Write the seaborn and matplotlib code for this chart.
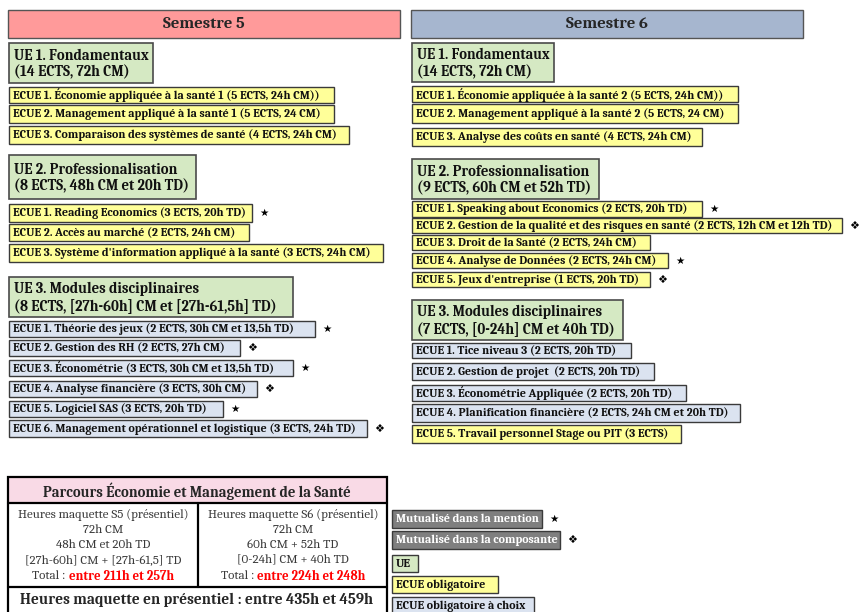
import matplotlib
matplotlib.use("Agg")
import matplotlib.pyplot as plt
from matplotlib.patches import Rectangle
import seaborn as sns

sns.set_theme(style="white")
plt.rcParams["font.family"] = ["Caladea", "DejaVu Sans"]

# ---- content ----
semesters = ["Semestre 5", "Semestre 6"]

s5_ue = ["UE 1. Fondamentaux\n(14 ECTS, 72h CM)",
         "UE 2. Professionalisation\n(8 ECTS, 48h CM et 20h TD)",
         "UE 3. Modules disciplinaires\n(8 ECTS, [27h-60h] CM et [27h-61,5h] TD)"]
s6_ue = ["UE 1. Fondamentaux\n(14 ECTS, 72h CM)",
         "UE 2. Professionnalisation\n(9 ECTS, 60h CM et 52h TD)",
         "UE 3. Modules disciplinaires\n(7 ECTS, [0-24h] CM et 40h TD)"]

s5_ecue = [
    "ECUE 1. Économie appliquée à la santé 1 (5 ECTS, 24h CM))",
    "ECUE 2. Management appliqué à la santé 1 (5 ECTS, 24 CM)",
    "ECUE 3. Comparaison des systèmes de santé (4 ECTS, 24h CM)",
    "ECUE 1. Reading Economics (3 ECTS, 20h TD)",
    "ECUE 2. Accès au marché (2 ECTS, 24h CM)",
    "ECUE 3. Système d'information appliqué à la santé (3 ECTS, 24h CM)",
    "ECUE 1. Théorie des jeux (2 ECTS, 30h CM et 13,5h TD)",
    "ECUE 2. Gestion des RH (2 ECTS, 27h CM)",
    "ECUE 3. Économétrie (3 ECTS, 30h CM et 13,5h TD)",
    "ECUE 4. Analyse financière (3 ECTS, 30h CM)",
    "ECUE 5. Logiciel SAS (3 ECTS, 20h TD)",
    "ECUE 6. Management opérationnel et logistique (3 ECTS, 24h TD)",
]
s5_kind = ["oblig"] * 6 + ["choix"] * 6
s5_mark = ["", "", "", "mention", "", "", "mention", "composante", "mention", "composante", "mention", "composante"]

s6_ecue = [
    "ECUE 1. Économie appliquée à la santé 2 (5 ECTS, 24h CM))",
    "ECUE 2. Management appliqué à la santé 2 (5 ECTS, 24 CM)",
    "ECUE 3. Analyse des coûts en santé (4 ECTS, 24h CM)",
    "ECUE 1. Speaking about Economics (2 ECTS, 20h TD)",
    "ECUE 2. Gestion de la qualité et des risques en santé (2 ECTS, 12h CM et 12h TD)",
    "ECUE 3. Droit de la Santé (2 ECTS, 24h CM)",
    "ECUE 4. Analyse de Données (2 ECTS, 24h CM)",
    "ECUE 5. Jeux d'entreprise (1 ECTS, 20h TD)",
    "ECUE 1. Tice niveau 3 (2 ECTS, 20h TD)",
    "ECUE 2. Gestion de projet  (2 ECTS, 20h TD)",
    "ECUE 3. Économétrie Appliquée (2 ECTS, 20h TD)",
    "ECUE 4. Planification financière (2 ECTS, 24h CM et 20h TD)",
    "ECUE 5. Travail personnel Stage ou PIT (3 ECTS)",
]
s6_kind = ["oblig"] * 8 + ["choix"] * 4 + ["oblig"]
s6_mark = ["", "", "", "mention", "composante", "", "mention", "composante", "", "", "", "", ""]

table_title = "Parcours Économie et Management de la Santé"
s5_hours = ["Heures maquette S5 (présentiel)", "72h CM", "48h CM et 20h TD", "[27h-60h] CM + [27h-61,5] TD"]
s6_hours = ["Heures maquette S6 (présentiel)", "72h CM", "60h CM + 52h TD", "[0-24h] CM + 40h TD"]
totals = ["entre 211h et 257h", "entre 224h et 248h"]
grand_total = "Heures maquette en présentiel : entre 435h et 459h"

legend_labels = ["Mutualisé dans la mention", "Mutualisé dans la composante", "UE",
                 "ECUE obligatoire", "ECUE obligatoire à choix"]
legend_kind = ["gray", "gray", "ue", "oblig", "choix"]
legend_mark = ["mention", "composante", "", "", ""]

# ---- layout (pixels, top-left origin) ----
sem_x = [(8, 400), (411, 803)]
col_x0 = [9, 412]
s5_ue_box = [(43, 83, 153), (155, 199, 196), (277, 317, 293)]
s6_ue_box = [(43, 82, 554), (159, 199, 599), (300, 340, 623)]
s5_ecue_box = [(87, 103, 334), (105, 123, 334), (126, 144, 349),
               (204, 222, 252), (224, 241, 249), (244, 262, 383),
               (321, 337, 315), (340, 356, 240), (360, 376, 293),
               (381, 397, 257), (401, 417, 223), (420, 437, 367)]
s6_ecue_box = [(86, 102, 738), (104, 123, 738), (128, 146, 702),
               (201, 217, 702), (218, 233, 842), (235, 250, 650),
               (253, 268, 668), (272, 287, 650),
               (343, 358, 631), (363, 380, 654), (385, 401, 686),
               (404, 422, 740), (425, 443, 681)]
legend_box = [(510, 528, 542), (531, 549, 560), (555, 572, 418), (576, 593, 498), (597, 615, 534)]

colors = {"oblig": "#FFFF99", "choix": "#DBE3F0", "ue": "#D5E9C3", "gray": "#7F7F7F"}
sem_colors = ["#FF9A9A", "#A6B6CF"]
edge = "#3A3A3A"
marks = {"mention": "★", "composante": "❖"}

fig = plt.figure(figsize=(8.66, 6.12), dpi=100)
ax = fig.add_axes([0, 0, 1, 1])
ax.set_xlim(0, 866)
ax.set_ylim(612, 0)
ax.axis("off")
renderer = fig.canvas.get_renderer()


def box(x0, y0, x1, y1, fc, lw=1.0, ec=edge):
    ax.add_patch(Rectangle((x0, y0), x1 - x0, y1 - y0, facecolor=fc, edgecolor=ec, lw=lw))


def put(x, y, s, maxw, size, ha="left", **kw):
    t = ax.text(x, y, s, fontsize=size, ha=ha, va="center", **kw)
    w = t.get_window_extent(renderer).width
    if w > maxw:
        t.set_fontsize(size * maxw / w)
    return t


def mark(x, y, kind):
    if kind:
        ax.text(x, y, marks[kind], fontsize=7.5 if kind == "mention" else 8, ha="center", va="center",
                family=["DejaVu Sans"], color="black")


# semester headers
for (x0, x1), name, c in zip(sem_x, semesters, sem_colors):
    box(x0, 10, x1, 38, c, lw=1.0, ec="#555555")
    put((x0 + x1) / 2, 24, name, 300, 12, ha="center", weight="bold")

# UE + ECUE boxes
for x0, ues, ue_boxes, ecues, kinds, mks, eboxes in [
        (col_x0[0], s5_ue, s5_ue_box, s5_ecue, s5_kind, s5_mark, s5_ecue_box),
        (col_x0[1], s6_ue, s6_ue_box, s6_ecue, s6_kind, s6_mark, s6_ecue_box)]:
    for label, (y0, y1, x1) in zip(ues, ue_boxes):
        box(x0, y0, x1, y1, colors["ue"], lw=1.2, ec="#4A4A4A")
        put(x0 + 5, (y0 + y1) / 2 + 1, label, x1 - x0 - 8, 10.5, weight="bold", linespacing=1.2,
            color="#111111")
    for label, kind, mk, (y0, y1, x1) in zip(ecues, kinds, mks, eboxes):
        box(x0, y0, x1, y1, colors[kind])
        put(x0 + 4, (y0 + y1) / 2 + 0.5, label, x1 - x0 - 7, 8.6, weight="bold", color="#111111")
        mark(x1 + 12, (y0 + y1) / 2, mk)

# summary table
ax.add_patch(Rectangle((8, 477), 379, 26, facecolor="#F9DAE6", edgecolor="none"))
ax.plot([8, 387, 387, 8, 8], [616, 616, 477, 477, 616], color="black", lw=1.6, solid_joinstyle="miter")
ax.plot([8, 387], [503, 503], color="black", lw=1.6)
ax.plot([8, 387], [587, 587], color="black", lw=1.6)
ax.plot([198, 198], [503, 587], color="black", lw=1.6)
put(197, 491, table_title, 360, 10.5, ha="center", weight="bold")

for cx, lines, tot in [(103, s5_hours, totals[0]), (293, s6_hours, totals[1])]:
    for i, line in enumerate(lines):
        put(cx, 515 + i * 15, line, 180, 9.3, ha="center", color="#3A3A3A")
    t1 = ax.text(0, 576, "Total : ", fontsize=9.3, va="center", color="#3A3A3A")
    t2 = ax.text(0, 576, tot, fontsize=9.3, va="center", color="red", weight="bold")
    w1 = t1.get_window_extent(renderer).width
    w2 = t2.get_window_extent(renderer).width
    start = cx - (w1 + w2) / 2
    t1.set_x(start)
    t2.set_x(start + w1)

put(197, 600, grand_total, 360, 11, ha="center", weight="bold")

# legend
for label, kind, mk, (y0, y1, x1) in zip(legend_labels, legend_kind, legend_mark, legend_box):
    box(392, y0, x1, y1, colors[kind])
    put(396, (y0 + y1) / 2 + 0.5, label, x1 - 392 - 7, 8.6, weight="bold",
        color="white" if kind == "gray" else "#111111")
    mark(x1 + 12, (y0 + y1) / 2, mk)

fig.savefig("out.png", dpi=100)
